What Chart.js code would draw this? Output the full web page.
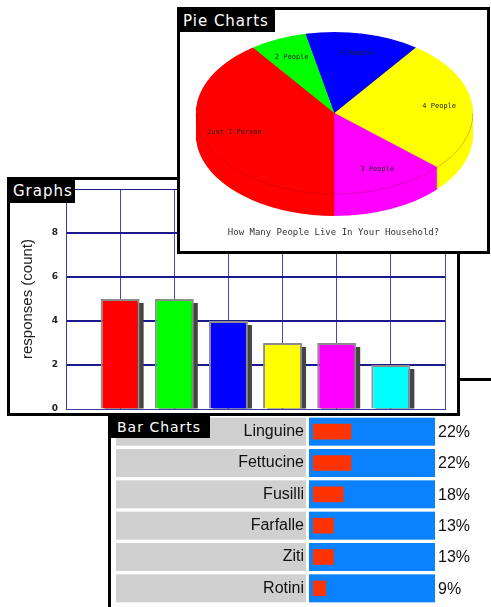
<!DOCTYPE html>
<html>
<head>
<meta charset="utf-8">
<script src="https://cdn.jsdelivr.net/npm/chart.js@4.4.1/dist/chart.umd.min.js"></script>
<style>
    body { margin: 0; background: #fff; }
    #stage { position: relative; width: 491px; height: 607px; overflow: hidden; background: #fff; }
    .panel { position: absolute; border: 3px solid #000; background: #fff; box-sizing: border-box; }
    .box { position: absolute; left: 0; top: 0; }
    .tag { position: absolute; background: #000; color: #fff; font: 15px "DejaVu Sans"; letter-spacing: 1px; line-height: 22px; white-space: nowrap; }
</style>
</head>
<body>
<div id="stage">
    <div class="panel" id="barPanel" style="left:108px; top:378px; width:420px; height:260px; z-index:1;">
        <div class="box" style="width:380px; height:226px;"><canvas id="pasta"></canvas></div>
        <div class="tag" style="left:0; top:35px; width:93px; height:22px; padding-left:6px; font-size:14px;">Bar Charts</div>
    </div>
    <div class="panel" id="graphPanel" style="left:7px; top:177px; width:453px; height:239px; z-index:2;">
        <div class="box" style="width:447px; height:233px;"><canvas id="graph"></canvas></div>
        <div class="tag" style="left:0; top:0; width:62px; height:23px; padding-left:3px;">Graphs</div>
    </div>
    <div class="panel" id="piePanel" style="left:177px; top:7px; width:313px; height:247px; z-index:3;">
        <div class="box" style="width:307px; height:241px;"><canvas id="pie"></canvas></div>
        <div class="tag" style="left:0; top:0; width:92px; height:22px; padding-left:3px;">Pie Charts</div>
    </div>
</div>
<script>
// pie panel
const pieLabels = ['Just 1 Person', '2 People', '5 People', '4 People', '3 People'];
const pieValues = [6, 1, 2, 4, 2];
const pieColors = ['#ff0000', '#00ff00', '#0000ff', '#ffff00', '#ff00ff'];
const pieTitle = 'How Many People Live In Your Household?';

// graphs panel
const graphCategories = ['1', '2', '3', '4', '5', '6'];
const graphValues = [5, 5, 4, 3, 3, 2];
const graphColors = ['#ff0000', '#00ff00', '#0000ff', '#ffff00', '#ff00ff', '#00ffff'];
const graphTicks = [0, 2, 4, 6, 8, 10];
const graphAxisTitle = 'responses (count)';

// bar charts panel
const pastaNames = ['Linguine', 'Fettucine', 'Fusilli', 'Farfalle', 'Ziti', 'Rotini'];
const pastaPercent = [22, 22, 18, 13, 13, 9];

Chart.defaults.font.family = '"Liberation Sans", Arial, sans-serif';

// ellipse + depth of the pie, in canvas pixels
const PIE = { cx: 154.5, cy: 103, rx: 138.5, ry: 81, depth: 22 };

function pieTransform(ctx, arc, dy) {
    ctx.translate(PIE.cx, PIE.cy + dy);
    ctx.scale(PIE.rx / arc.outerRadius, PIE.ry / arc.outerRadius);
    ctx.translate(-arc.x, -arc.y);
}

const pie3d = {
    id: 'pie3d',
    beforeDatasetsDraw(chart) {
        const ctx = chart.ctx;
        const meta = chart.getDatasetMeta(0);
        const arc0 = meta.data[0];
        // side of the pie
        for (let d = PIE.depth; d > 0; d--) {
            ctx.save();
            pieTransform(ctx, arc0, d);
            meta.data.forEach(a => a.draw(ctx));
            ctx.restore();
        }
        ctx.save();
        pieTransform(ctx, arc0, 0);
    },
    afterDatasetsDraw(chart) {
        const ctx = chart.ctx;
        const meta = chart.getDatasetMeta(0);
        ctx.restore();

        // faint rim of the top face
        ctx.save();
        ctx.strokeStyle = 'rgba(120,0,0,0.25)';
        ctx.lineWidth = 1;
        ctx.beginPath();
        ctx.ellipse(PIE.cx, PIE.cy, PIE.rx, PIE.ry, 0, 0, Math.PI);
        ctx.stroke();
        ctx.restore();

        // slice labels
        ctx.save();
        ctx.font = '7px "DejaVu Sans Mono"';
        ctx.fillStyle = '#222';
        ctx.textAlign = 'center';
        ctx.textBaseline = 'middle';
        meta.data.forEach((a, i) => {
            const mid = (a.startAngle + a.endAngle) / 2;
            const x = PIE.cx + PIE.rx * 0.76 * Math.cos(mid);
            const y = PIE.cy + PIE.ry * 0.76 * Math.sin(mid);
            ctx.fillText(pieLabels[i], x, y);
        });
        ctx.restore();
    }
};

new Chart(document.getElementById('pie'), {
    type: 'pie',
    data: {
        labels: pieLabels,
        datasets: [{
            data: pieValues,
            backgroundColor: pieColors,
            borderWidth: 0,
            clip: false
        }]
    },
    options: {
        responsive: true,
        maintainAspectRatio: false,
        animation: false,
        rotation: 180,
        plugins: {
            legend: { display: false },
            tooltip: { enabled: false },
            title: {
                display: true,
                position: 'bottom',
                text: pieTitle,
                color: '#333',
                font: { family: '"DejaVu Sans Mono"', size: 9, weight: 'normal' },
                padding: { top: 0, bottom: 13 }
            }
        }
    },
    plugins: [pie3d]
});

// drop shadow behind the graph bars
const barShadow = {
    id: 'barShadow',
    beforeDatasetsDraw(chart) {
        const ctx = chart.ctx;
        const meta = chart.getDatasetMeta(0);
        ctx.save();
        ctx.fillStyle = '#444';
        meta.data.forEach(bar => {
            const p = bar.getProps(['x', 'y', 'base', 'width'], true);
            ctx.fillRect(p.x - p.width / 2 + 4, p.y + 4, p.width, p.base - p.y - 4);
        });
        ctx.restore();
    }
};

new Chart(document.getElementById('graph'), {
    type: 'bar',
    data: {
        datasets: [{
            data: graphValues.map((v, i) => ({ x: i + 1, y: v })),
            backgroundColor: graphColors,
            borderColor: '#8c8c8c',
            borderWidth: 2
        }]
    },
    options: {
        responsive: true,
        maintainAspectRatio: false,
        animation: false,
        layout: { padding: { top: 9, right: 12, bottom: 4, left: 0 } },
        plugins: {
            legend: { display: false },
            tooltip: { enabled: false }
        },
        scales: {
            x: {
                type: 'linear',
                min: 0,
                max: graphCategories.length + 1,
                offset: false,
                ticks: { display: false, stepSize: 1 },
                grid: { color: '#4848b4', lineWidth: 1, drawTicks: false, offset: false },
                border: { color: '#3a3aa0', width: 1 }
            },
            y: {
                min: graphTicks[0],
                max: graphTicks[graphTicks.length - 1],
                ticks: {
                    stepSize: 2,
                    padding: 8,
                    color: '#222',
                    font: { family: '"DejaVu Sans"', size: 9, weight: 'bold' }
                },
                grid: {
                    color: '#1a1a8c',
                    lineWidth: c => (c.tick && c.tick.value > 0 && c.tick.value < 10) ? 2 : 1,
                    drawTicks: false
                },
                border: { color: '#3a3aa0', width: 1 },
                title: {
                    display: true,
                    text: graphAxisTitle,
                    color: '#222',
                    font: { size: 15 },
                    padding: { top: 9, bottom: 0 }
                },
                afterFit: s => {
                    s.width = 56;
                    s.paddingTop = 0;
                    s.paddingBottom = 0;
                }
            }
        }
    },
    plugins: [barShadow]
});

// grey label cells, blue tracks and the percent text
const pastaRows = {
    id: 'pastaRows',
    beforeDraw(chart) {
        const { ctx, chartArea, scales } = chart;
        ctx.save();
        pastaNames.forEach((name, i) => {
            const yc = scales.y.getPixelForValue(i);
            ctx.fillStyle = '#d0d0d0';
            ctx.fillRect(5, yc - 14, chartArea.left - 12, 28);
            ctx.fillStyle = '#0a82ff';
            ctx.fillRect(chartArea.left - 4, yc - 14, chartArea.right - chartArea.left + 4, 28);
        });
        ctx.restore();
    },
    afterDatasetsDraw(chart) {
        const { ctx, chartArea, scales } = chart;
        ctx.save();
        ctx.font = '16px "Liberation Sans"';
        ctx.fillStyle = '#111';
        ctx.textAlign = 'left';
        ctx.textBaseline = 'middle';
        pastaPercent.forEach((v, i) => {
            ctx.fillText(v + '%', chartArea.right + 3, scales.y.getPixelForValue(i) + 1);
        });
        ctx.restore();
    }
};

new Chart(document.getElementById('pasta'), {
    type: 'bar',
    data: {
        labels: pastaNames,
        datasets: [{
            data: pastaPercent,
            backgroundColor: '#ff3300',
            barThickness: 15
        }]
    },
    options: {
        indexAxis: 'y',
        responsive: true,
        maintainAspectRatio: false,
        animation: false,
        layout: { padding: { top: 35, right: 56, bottom: 3, left: 0 } },
        plugins: {
            legend: { display: false },
            tooltip: { enabled: false }
        },
        scales: {
            x: { display: false, min: 2.5, max: 65 },
            y: {
                grid: { display: false, drawTicks: false },
                border: { display: false },
                ticks: {
                    padding: 9,
                    color: '#111',
                    font: { size: 16 }
                },
                afterFit: s => {
                    s.width = 202;
                    s.paddingTop = 0;
                    s.paddingBottom = 0;
                }
            }
        }
    },
    plugins: [pastaRows]
});
</script>
</body>
</html>
